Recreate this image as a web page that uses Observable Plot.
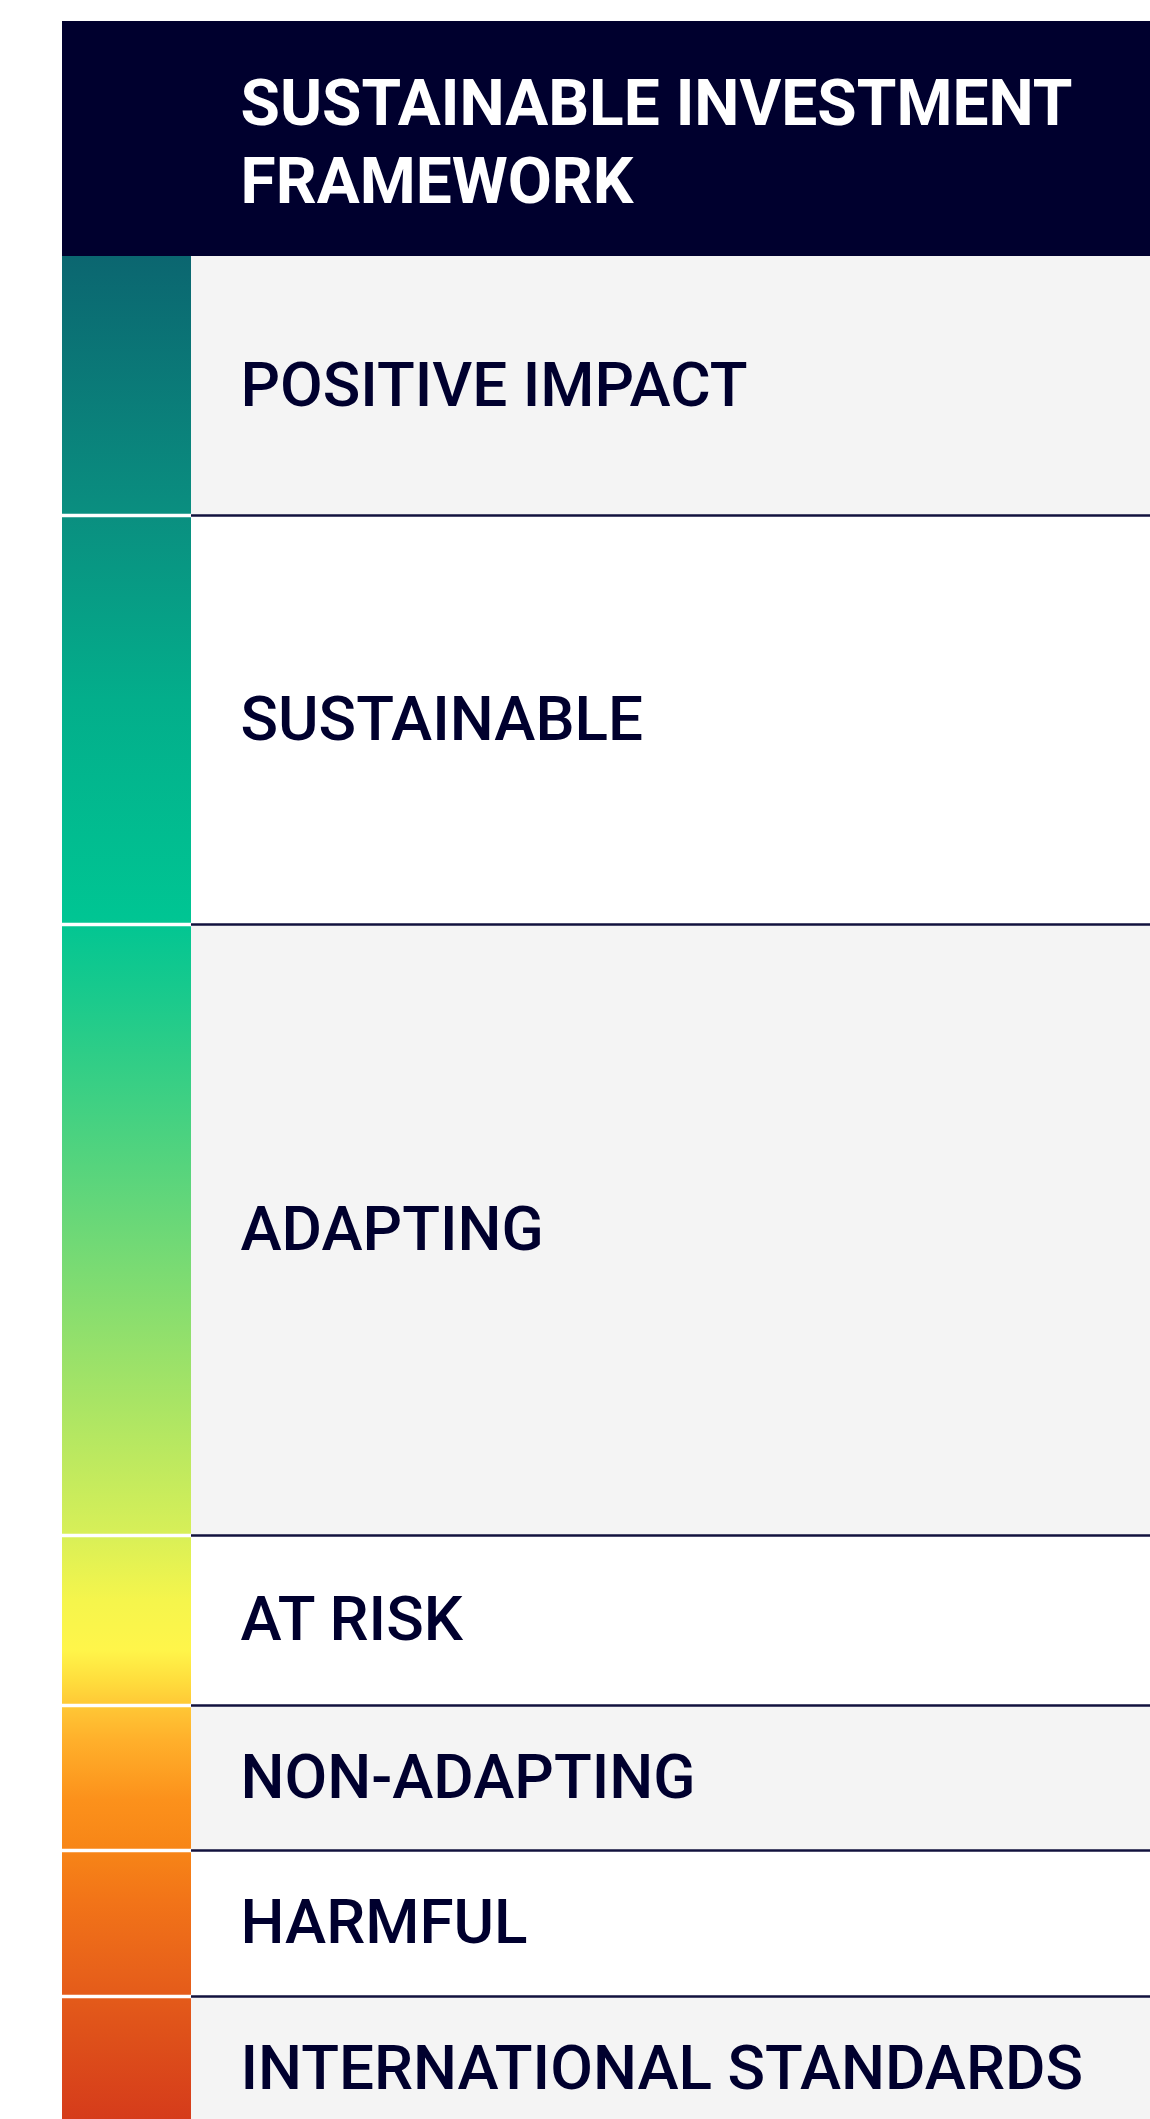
<!DOCTYPE html>
<html>
<head>
<meta charset="utf-8">
<script src="https://cdn.jsdelivr.net/npm/d3@7"></script>
<script src="https://cdn.jsdelivr.net/npm/@observablehq/plot@0.6"></script>
<style>
  html, body { margin: 0; padding: 0; background: #ffffff; overflow: hidden; }
  #chart svg { display: block; }
</style>
</head>
<body>
<div id="chart"></div>
<script>
// ---- Data ----
const titleLines = ["SUSTAINABLE INVESTMENT", "FRAMEWORK"];
const categories = [
  "POSITIVE IMPACT",
  "SUSTAINABLE",
  "ADAPTING",
  "AT RISK",
  "NON-ADAPTING",
  "HARMFUL",
  "INTERNATIONAL STANDARDS"
];
// relative band sizes of each category
const rowWeights = [259, 409, 611, 170, 145, 146, 145];
const headerWeight = 235;
// colour ramp along the framework (position from top of first band)
const gradientPositions = [0, 259, 444, 660, 744, 944, 1144, 1274, 1344, 1394, 1424, 1449, 1484, 1544, 1594, 1644, 1714, 1774, 1885];
const gradientColors = ["#0b6670", "#0a8f80", "#03ae8b", "#00c593", "#1bca8c", "#62d67a", "#a8e465", "#d6ef58", "#f5f54c", "#fff54a", "#ffde3d", "#ffc836", "#ffb02b", "#fc911b", "#f78517", "#f27418", "#e8621a", "#df521a", "#d3361b"];

// ---- Layout / style ----
const W = 1150, H = 2119;
const navy = "#00002e";
const stripEnd = 129 / 1088;
const labelX = 178 / 1088;
const fontFamily = "Roboto, 'Liberation Sans', Arial, sans-serif";

const rowsTotal = d3.sum(rowWeights);
const total = headerWeight + rowsTotal;
const cum = [0, ...d3.cumsum(rowWeights)];
const rows = categories.map((name, i) => ({
  name,
  y1: headerWeight + cum[i],
  y2: headerWeight + cum[i + 1],
  bg: i % 2 === 0 ? "#f4f4f4" : "#ffffff"
}));
const boundaries = rows.slice(1).map(d => d.y1);

const svg = Plot.plot({
  width: W,
  height: H,
  marginTop: 21,
  marginLeft: 62,
  marginRight: 0,
  marginBottom: 0,
  style: { background: "#ffffff", fontFamily },
  x: { domain: [0, 1], range: [62, W], axis: null },
  y: { domain: [0, total], range: [21, 21 + total], axis: null },
  color: { type: "identity" },
  marks: [
    Plot.rect([titleLines], { x1: 0, x2: 1, y1: 0, y2: headerWeight, fill: navy }),
    Plot.rect(rows, { x1: stripEnd, x2: 1, y1: "y1", y2: "y2", fill: "bg" }),
    Plot.rect(rows, { x1: 0, x2: stripEnd, y1: "y1", y2: "y2", fill: "url(#stripGradient)" }),
    Plot.ruleY(boundaries, { x1: 0, x2: stripEnd, stroke: "#ffffff", strokeWidth: 3.5 }),
    Plot.ruleY(boundaries, { x1: stripEnd, x2: 1, stroke: "#12123e", strokeWidth: 2.5 }),
    Plot.text(rows, {
      x: labelX, y: d => (d.y1 + d.y2) / 2, text: "name",
      textAnchor: "start", fill: navy, fontSize: 62, fontWeight: 500, fontFamily
    }),
    Plot.text([titleLines.join("\n")], {
      x: labelX, y: headerWeight / 2, text: d => d,
      textAnchor: "start", fill: "#ffffff", fontSize: 64, fontWeight: 700,
      lineHeight: 1.22, fontFamily
    })
  ]
});

// gradient running continuously down the whole strip
const yScale = svg.scale("y");
const ns = "http://www.w3.org/2000/svg";
const defs = document.createElementNS(ns, "defs");
const grad = document.createElementNS(ns, "linearGradient");
grad.setAttribute("id", "stripGradient");
grad.setAttribute("gradientUnits", "userSpaceOnUse");
grad.setAttribute("x1", 0); grad.setAttribute("x2", 0);
grad.setAttribute("y1", yScale.apply(headerWeight));
grad.setAttribute("y2", yScale.apply(total));
gradientPositions.forEach((p, i) => {
  const s = document.createElementNS(ns, "stop");
  s.setAttribute("offset", p / rowsTotal);
  s.setAttribute("stop-color", gradientColors[i]);
  grad.appendChild(s);
});
defs.appendChild(grad);
svg.insertBefore(defs, svg.firstChild);

document.getElementById("chart").appendChild(svg);
</script>
</body>
</html>
